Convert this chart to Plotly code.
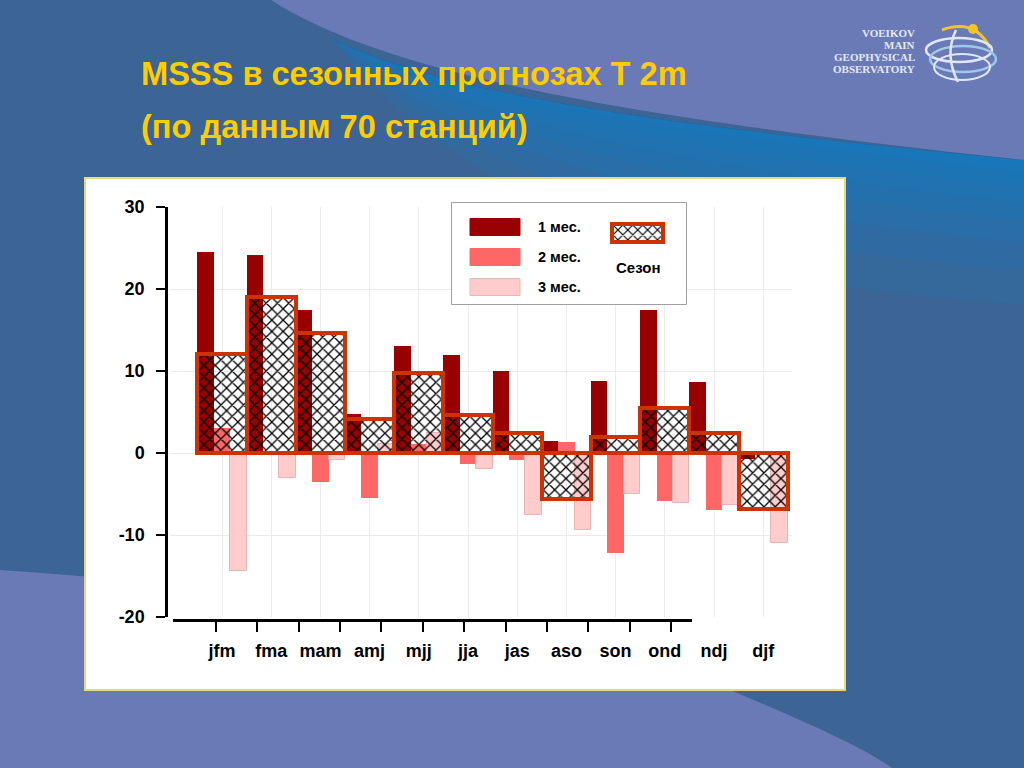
import plotly.graph_objects as go

# ---------------- data ----------------
seasons = ['jfm', 'fma', 'mam', 'amj', 'mjj', 'jja', 'jas', 'aso', 'son', 'ond', 'ndj', 'djf']
month1 = [24.5, 24.1, 17.4, 4.7, 13.0, 11.9, 10.0, 1.5, 8.8, 17.4, 8.6, -0.7]
month2 = [3.0, -0.3, -3.5, -5.5, 1.1, -1.3, -0.9, 1.3, -12.2, -5.8, -7.0, -0.3]
month3 = [-14.4, -3.1, -0.9, 1.1, 2.5, -2.0, -7.6, -9.4, -5.0, -6.1, -6.3, -11.0]
season = [12.1, 19.0, 14.6, 4.2, 9.8, 4.6, 2.4, -5.6, 2.0, 5.5, 2.4, -6.8]
y_ticks = [-20, -10, 0, 10, 20, 30]
y_ticktext = ['-20', '-10', '0', '10', '20', '30']
legend_labels = ['1 мес.', '2 мес.', '3 мес.']
season_label = 'Сезон'
title_lines = ['MSSS в сезонных прогнозах T 2m', '(по данным 70 станций)']
logo_lines = ['VOEIKOV', 'MAIN', 'GEOPHYSICAL', 'OBSERVATORY']

C1, C2, C3 = '#990000', '#ff6666', '#ffcccc'
SEASON_LINE = '#cc3300'

W, H = 1024, 768
def X(px):
    return px / W
def Y(py):
    return 1 - py / H
def path(pts_cmds):
    out = []
    for item in pts_cmds:
        if isinstance(item, str):
            out.append(item)
        else:
            out.append(f"{X(item[0]):.5f},{Y(item[1]):.5f}")
    return ' '.join(out)

FONT = 'Liberation Sans, Arial, sans-serif'
HATCH = dict(shape='x', fgcolor='black', fgopacity=1, size=8, solidity=0.3, fillmode='overlay')

fig = go.Figure()

# ---------------- main bars ----------------
fig.add_trace(go.Bar(x=seasons, y=month1, width=1/3, offset=-0.5,
                     marker=dict(color=C1, line=dict(width=0)), showlegend=False))
fig.add_trace(go.Bar(x=seasons, y=month2, width=1/3, offset=-1/6,
                     marker=dict(color=C2, line=dict(width=0)), showlegend=False))
fig.add_trace(go.Bar(x=seasons, y=month3, width=1/3, offset=1/6,
                     marker=dict(color=C3, line=dict(width=1, color='#eab4b4')), showlegend=False))
fig.add_trace(go.Bar(x=seasons, y=season, width=1, offset=-0.5,
                     marker=dict(color='rgba(0,0,0,0)',
                                 line=dict(width=4, color=SEASON_LINE),
                                 pattern=dict(HATCH, bgcolor='rgba(0,0,0,0)')),
                     showlegend=False))

# dummy trace for the separate x axis line with ticks
fig.add_trace(go.Scatter(x=[None], y=[None], xaxis='x2', yaxis='y2',
                         showlegend=False, hoverinfo='skip'))

# legend box (subplot 3) and season swatch (subplot 4)
fig.add_trace(go.Bar(x=[0], y=[1], width=1, xaxis='x3', yaxis='y3', showlegend=False,
                     marker=dict(color='white', line=dict(width=1, color='#a0a0a0')),
                     hoverinfo='skip'))
fig.add_trace(go.Bar(x=[0], y=[1], width=1, xaxis='x4', yaxis='y4', showlegend=False,
                     marker=dict(color='white',
                                 line=dict(width=4, color=SEASON_LINE),
                                 pattern=dict(HATCH, size=7)),
                     hoverinfo='skip'))

# ---------------- background shapes ----------------
shapes = []
# top periwinkle region
shapes.append(dict(type='path', xref='paper', yref='paper', layer='below',
                   path=path(['M', (271, 0), 'C', (380, 70), (600, 115), (1024, 160),
                              'L', (1024, 0), 'Z']),
                   fillcolor='#6a7ab6', line=dict(width=0)))
# soft bright-blue glow under the curve (layered strips)
for d in [12, 26, 42, 60, 82, 110, 145]:
    shapes.append(dict(type='path', xref='paper', yref='paper', layer='below',
                       path=path(['M', (330, 38), 'C', (440, 92), (640, 124), (1024, 160),
                                  'L', (1024, 160 + d),
                                  'C', (720, 124 + d * 1.1), (480, 95 + d * 0.9), (330, 38), 'Z']),
                       fillcolor='#0a84d0', opacity=0.13, line=dict(width=0)))
# bottom periwinkle region
shapes.append(dict(type='path', xref='paper', yref='paper', layer='below',
                   path=path(['M', (0, 570), 'C', (300, 590), (600, 640), (735, 692),
                              'C', (800, 720), (860, 745), (892, 768), 'L', (0, 768), 'Z']),
                   fillcolor='#6a7ab6', line=dict(width=0)))
# white chart panel
shapes.append(dict(type='rect', xref='paper', yref='paper', layer='below',
                   x0=X(85), x1=X(845), y0=Y(690), y1=Y(178),
                   fillcolor='white', line=dict(color='#e6d97a', width=2)))

# logo globe (decoration)
shapes.append(dict(type='path', xref='paper', yref='paper', layer='above',
                   path=path(['M', (942, 30), 'Q', (975, 18), (990, 48)]),
                   line=dict(color='#f2c230', width=3)))
shapes.append(dict(type='circle', xref='paper', yref='paper', layer='above',
                   x0=X(968), x1=X(978), y0=Y(34), y1=Y(24),
                   fillcolor='#f2c230', line=dict(width=0)))
for (x0, y0, x1, y1, c, w) in [(926, 38, 992, 62, '#dfe8f8', 2.5),
                               (930, 46, 996, 72, '#9cc8ec', 2.5),
                               (934, 54, 990, 80, '#dfe8f8', 2)]:
    shapes.append(dict(type='circle', xref='paper', yref='paper', layer='above',
                       x0=X(x0), x1=X(x1), y0=Y(y1), y1=Y(y0),
                       line=dict(color=c, width=w)))
shapes.append(dict(type='path', xref='paper', yref='paper', layer='above',
                   path=path(['M', (956, 30), 'Q', (944, 55), (958, 82)]),
                   line=dict(color='#dfe8f8', width=2.5)))

# legend swatches
for i, c in enumerate([C1, C2, C3]):
    yc = 227 + 30 * i
    shapes.append(dict(type='rect', xref='paper', yref='paper', layer='above',
                       x0=X(470), x1=X(520), y0=Y(yc + 8.5), y1=Y(yc - 8.5),
                       fillcolor=c, line=dict(width=1, color=c if i < 2 else '#eab4b4')))

# ---------------- annotations ----------------
ann = []
ann.append(dict(text=title_lines[0], x=X(139), y=Y(74), xref='paper', yref='paper',
                xanchor='left', yanchor='middle', showarrow=False,
                font=dict(family=FONT, size=32.6, color='#ffcc00', weight='bold')))
ann.append(dict(text=title_lines[1], x=X(139), y=Y(126), xref='paper', yref='paper',
                xanchor='left', yanchor='middle', showarrow=False,
                font=dict(family=FONT, size=32.6, color='#ffcc00', weight='bold')))
for i, t in enumerate(logo_lines):
    ann.append(dict(text=t, x=X(917), y=Y(33 + 12 * i), xref='paper', yref='paper',
                    xanchor='right', yanchor='middle', showarrow=False,
                    font=dict(family='Liberation Serif, DejaVu Serif, serif', size=11,
                              color='#e4e8f4', weight='bold')))
for i, t in enumerate(legend_labels):
    ann.append(dict(text=t, x=X(536), y=Y(227 + 30 * i), xref='paper', yref='paper',
                    xanchor='left', yanchor='middle', showarrow=False,
                    font=dict(family=FONT, size=14.5, color='black', weight='bold')))
ann.append(dict(text=season_label, x=X(638), y=Y(267), xref='paper', yref='paper',
                xanchor='center', yanchor='middle', showarrow=False,
                font=dict(family=FONT, size=15, color='black', weight='bold')))

# ---------------- layout ----------------
grid = '#ebebeb'
fig.update_layout(
    template='none',
    width=W, height=H, autosize=False,
    margin=dict(l=0, r=0, t=0, b=0, pad=0, autoexpand=False),
    paper_bgcolor='#3c6494',
    plot_bgcolor='rgba(0,0,0,0)',
    barmode='overlay',
    bargap=0,
    showlegend=False,
    shapes=shapes,
    annotations=ann,
    xaxis=dict(domain=[X(170), X(792)], type='category', categoryorder='array',
               categoryarray=seasons, range=[-1.057, 11.585], automargin=False,
               showgrid=True, gridcolor=grid, gridwidth=1, zeroline=False,
               showline=False, ticks='', ticklabelstandoff=21,
               tickfont=dict(family=FONT, size=18, color='black', weight='bold'),
               anchor='y', fixedrange=True),
    yaxis=dict(domain=[Y(617), Y(207)], range=[-20, 30], tickvals=y_ticks, ticktext=y_ticktext,
               automargin=False,
               showgrid=True, gridcolor=grid, gridwidth=1, zeroline=False,
               showline=True, linecolor='black', linewidth=2.5,
               ticks='outside', ticklen=9, tickwidth=2, tickcolor='black',
               ticklabelstandoff=8,
               tickfont=dict(family=FONT, size=18, color='black', weight='bold'),
               anchor='free', position=X(166), fixedrange=True),
    xaxis2=dict(domain=[X(173), X(692)], range=[-1.03, 11.5], tickvals=list(range(len(seasons))),
                automargin=False,
                showticklabels=False, ticks='outside', ticklen=10, tickwidth=2, tickcolor='black',
                showline=True, linecolor='black', linewidth=2.5, showgrid=False, zeroline=False,
                anchor='free', position=Y(620), fixedrange=True),
    yaxis2=dict(domain=[Y(617), Y(207)], range=[0, 1], visible=False, anchor='x2',
                automargin=False, fixedrange=True),
    xaxis3=dict(domain=[X(450), X(689)], range=[-0.5 - 2 / 235, 0.5 + 2 / 235], visible=False,
                automargin=False, anchor='y3', fixedrange=True),
    yaxis3=dict(domain=[Y(307), Y(201)], range=[-2 / 102, 1 + 2 / 102], visible=False,
                automargin=False, anchor='x3', fixedrange=True),
    xaxis4=dict(domain=[X(608), X(667)], range=[-0.5 - 4 / 51, 0.5 + 4 / 51], visible=False,
                automargin=False, anchor='y4', fixedrange=True),
    yaxis4=dict(domain=[Y(246), Y(220)], range=[-4 / 18, 1 + 4 / 18], visible=False,
                automargin=False, anchor='x4', fixedrange=True),
)

fig.write_html("out.html", config={'displayModeBar': False},
               post_script="document.body.style.margin='0';")
